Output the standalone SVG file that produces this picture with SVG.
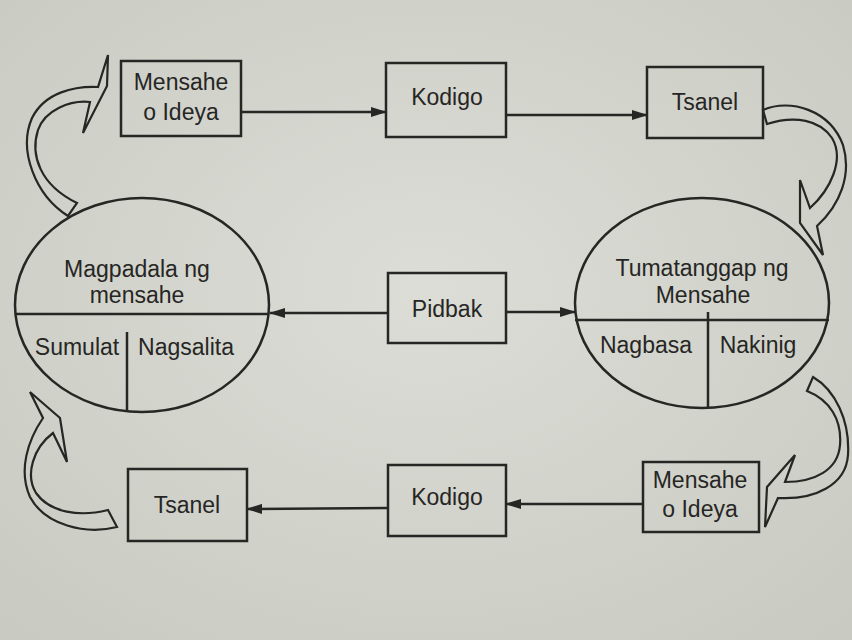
<svg xmlns="http://www.w3.org/2000/svg" width="852" height="640" viewBox="0 0 852 640">
<defs>
<radialGradient id="bg" cx="50%" cy="45%" r="75%">
<stop offset="0" stop-color="#dcddd6"/>
<stop offset="1" stop-color="#c8c9c1"/>
</radialGradient>
<marker id="ah" viewBox="0 0 16 10" refX="15" refY="5" markerWidth="16" markerHeight="10" markerUnits="userSpaceOnUse" orient="auto">
<path d="M0,0 L16,5 L0,10 Z" fill="#262624"/>
</marker>
</defs>
<style>
.box{fill:none;stroke:#262624;stroke-width:2.5}
.ln{fill:none;stroke:#262624;stroke-width:2.5}
.cv{fill:none;stroke:#262624;stroke-width:2.2;stroke-linejoin:miter}
.t{font-family:"Liberation Sans","DejaVu Sans",sans-serif;font-size:23px;fill:#262624;text-anchor:middle}
</style>
<rect width="852" height="640" fill="url(#bg)"/>

<g id="sender">
<ellipse cx="142" cy="305" rx="127" ry="107" class="ln"/>
<line x1="15" y1="314" x2="269" y2="314" class="ln"/>
<line x1="127" y1="332" x2="127" y2="412" class="ln"/>
<text class="t" x="137" y="277">Magpadala ng</text>
<text class="t" x="137" y="303">mensahe</text>
<text class="t" x="77" y="355">Sumulat</text>
<text class="t" x="186" y="355">Nagsalita</text>
</g>

<g id="receiver">
<ellipse cx="702" cy="303" rx="127" ry="105" class="ln"/>
<line x1="575" y1="320" x2="829" y2="320" class="ln"/>
<line x1="708" y1="312" x2="708" y2="407" class="ln"/>
<text class="t" x="702" y="276">Tumatanggap ng</text>
<text class="t" x="703" y="303">Mensahe</text>
<text class="t" x="646" y="353">Nagbasa</text>
<text class="t" x="758" y="353">Nakinig</text>
</g>

<g id="mensahe-top">
<rect x="121" y="61" width="120" height="75" class="box"/>
<text class="t" x="181" y="90">Mensahe</text>
<text class="t" x="181" y="120">o Ideya</text>
</g>
<g id="kodigo-top">
<rect x="386" y="63" width="120" height="74" class="box"/>
<text class="t" x="447" y="105">Kodigo</text>
</g>
<g id="tsanel-top">
<rect x="647" y="67" width="116" height="71" class="box"/>
<text class="t" x="705" y="110">Tsanel</text>
</g>
<g id="pidbak">
<rect x="388" y="273" width="118" height="70" class="box"/>
<text class="t" x="447" y="317">Pidbak</text>
</g>
<g id="tsanel-bottom">
<rect x="128" y="469" width="119" height="72" class="box"/>
<text class="t" x="187" y="513">Tsanel</text>
</g>
<g id="kodigo-bottom">
<rect x="388" y="465" width="118" height="71" class="box"/>
<text class="t" x="447" y="505">Kodigo</text>
</g>
<g id="mensahe-bottom">
<rect x="643" y="462" width="116" height="70" class="box"/>
<text class="t" x="700" y="488">Mensahe</text>
<text class="t" x="700" y="517">o Ideya</text>
</g>

<g id="connectors">
<line x1="241" y1="112" x2="386" y2="112" class="ln" marker-end="url(#ah)"/>
<line x1="506" y1="115" x2="647" y2="115" class="ln" marker-end="url(#ah)"/>
<line x1="388" y1="313" x2="270" y2="313" class="ln" marker-end="url(#ah)"/>
<line x1="506" y1="312" x2="575" y2="312" class="ln" marker-end="url(#ah)"/>
<line x1="643" y1="504" x2="506" y2="504" class="ln" marker-end="url(#ah)"/>
<line x1="388" y1="508" x2="247" y2="509" class="ln" marker-end="url(#ah)"/>
<path class="cv" d="M68,216 C35,195 18,150 32,118 C45,92 75,86 98,87 L108,55 L107,86 L83,133 L90,102 C70,100 45,110 38,130 C30,155 40,185 77,203 Z"/>
<path class="cv" d="M763,110 C790,98 830,110 843,145 C852,175 840,205 817,226 L823,255 L800,223 L800,180 L810,208 C830,190 845,160 832,138 C820,120 795,115 767,124 Z"/>
<path class="cv" d="M813,377 C835,390 850,420 848,455 C846,485 815,500 778,498 L765,527 L767,487 L795,455 L785,482 C815,482 838,470 840,445 C842,420 830,400 807,391 Z"/>
<path class="cv" d="M30,392 L43,418 C28,440 18,470 30,497 C45,525 85,535 117,527 L108,510 C80,517 50,513 36,493 C25,475 33,448 53,433 L67,462 L60,418 Z"/>
</g>
</svg>
